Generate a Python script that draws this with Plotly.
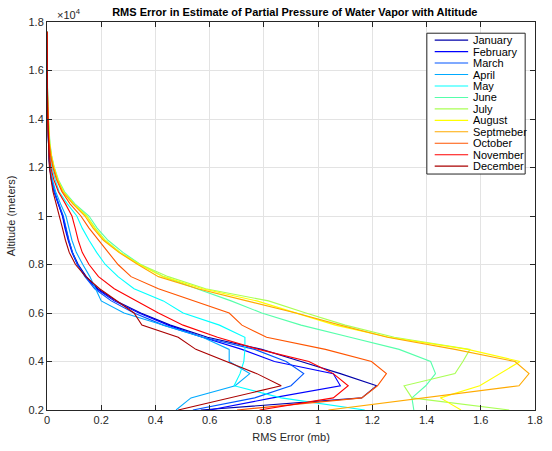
import plotly.graph_objects as go

ALTITUDE = [2000, 2500, 3000, 3500, 4000, 4500, 5000, 5500, 6000, 6500, 7000, 7500,
            8000, 8500, 9000, 9500, 10000, 10500, 11000, 11500, 12000, 12500, 13000,
            13500, 14000, 14500, 15000, 15500, 16000, 16500, 17000, 17600]

MONTHS = ["January", "February", "March", "April", "May", "June", "July",
          "August", "Septmeber", "October", "November", "December"]

COLORS = ["rgb(0,0,170)", "rgb(0,0,255)", "rgb(0,85,255)", "rgb(0,170,255)",
          "rgb(0,255,255)", "rgb(85,255,170)", "rgb(170,255,85)", "rgb(255,255,0)",
          "rgb(255,170,0)", "rgb(255,85,0)", "rgb(255,0,0)", "rgb(170,0,0)"]

JAN = [0.567, 1.161, 1.216, 1.082, 0.937, 0.792, 0.592, 0.455, 0.346, 0.255, 0.187, 0.145, 0.115, 0.094, 0.080, 0.068, 0.058, 0.042, 0.027, 0.017, 0.010, 0.007, 0.005, 0.004, 0.003, 0.002, 0.002, 0.001, 0.001, 0.001, 0.000, 0.000]
FEB = [0.600, 0.832, 1.082, 1.056, 0.839, 0.719, 0.574, 0.447, 0.339, 0.248, 0.183, 0.142, 0.112, 0.092, 0.078, 0.066, 0.057, 0.041, 0.026, 0.016, 0.010, 0.007, 0.005, 0.004, 0.003, 0.002, 0.002, 0.001, 0.001, 0.001, 0.000, 0.000]
MAR = [0.538, 0.766, 0.900, 0.947, 0.882, 0.766, 0.574, 0.429, 0.321, 0.237, 0.176, 0.140, 0.112, 0.094, 0.081, 0.070, 0.060, 0.044, 0.028, 0.018, 0.011, 0.007, 0.005, 0.004, 0.003, 0.002, 0.002, 0.001, 0.001, 0.001, 0.000, 0.000]
APR = [0.476, 0.531, 0.694, 0.748, 0.672, 0.672, 0.574, 0.429, 0.284, 0.200, 0.180, 0.158, 0.132, 0.108, 0.092, 0.080, 0.070, 0.050, 0.032, 0.020, 0.012, 0.008, 0.005, 0.004, 0.003, 0.002, 0.002, 0.001, 0.001, 0.001, 0.000, 0.000]
MAY = [1.172, 0.864, 0.690, 0.712, 0.726, 0.730, 0.730, 0.636, 0.502, 0.429, 0.321, 0.262, 0.215, 0.183, 0.155, 0.130, 0.110, 0.075, 0.045, 0.030, 0.018, 0.011, 0.007, 0.005, 0.003, 0.002, 0.002, 0.001, 0.001, 0.001, 0.000, 0.000]
JUN = [1.353, 1.346, 1.397, 1.433, 1.415, 1.299, 1.118, 0.937, 0.792, 0.679, 0.553, 0.430, 0.345, 0.280, 0.225, 0.185, 0.155, 0.103, 0.065, 0.042, 0.027, 0.017, 0.011, 0.007, 0.005, 0.003, 0.002, 0.001, 0.001, 0.001, 0.000, 0.000]
JUL = [1.705, 1.346, 1.317, 1.505, 1.534, 1.560, 1.281, 1.100, 0.955, 0.817, 0.585, 0.447, 0.345, 0.270, 0.215, 0.178, 0.148, 0.100, 0.062, 0.040, 0.026, 0.016, 0.010, 0.007, 0.005, 0.003, 0.002, 0.001, 0.001, 0.001, 0.000, 0.000]
AUG = [1.527, 1.451, 1.596, 1.668, 1.745, 1.552, 1.263, 1.063, 0.918, 0.774, 0.574, 0.429, 0.340, 0.268, 0.212, 0.175, 0.145, 0.098, 0.061, 0.040, 0.026, 0.016, 0.010, 0.007, 0.005, 0.003, 0.002, 0.001, 0.001, 0.001, 0.000, 0.000]
SEP = [1.038, 1.400, 1.741, 1.778, 1.726, 1.505, 1.255, 1.082, 0.918, 0.737, 0.556, 0.411, 0.335, 0.265, 0.208, 0.170, 0.140, 0.095, 0.058, 0.038, 0.024, 0.015, 0.009, 0.006, 0.004, 0.003, 0.002, 0.001, 0.001, 0.001, 0.000, 0.000]
OCT = [0.701, 1.161, 1.219, 1.252, 1.197, 1.027, 0.810, 0.719, 0.672, 0.545, 0.411, 0.310, 0.262, 0.226, 0.190, 0.155, 0.125, 0.085, 0.055, 0.035, 0.022, 0.013, 0.008, 0.005, 0.003, 0.002, 0.002, 0.001, 0.001, 0.001, 0.000, 0.000]
NOV = [0.784, 1.056, 1.111, 1.056, 0.966, 0.781, 0.629, 0.502, 0.411, 0.332, 0.248, 0.190, 0.155, 0.130, 0.115, 0.104, 0.092, 0.068, 0.042, 0.025, 0.014, 0.009, 0.006, 0.004, 0.003, 0.002, 0.002, 0.001, 0.001, 0.001, 0.000, 0.000]
DEC = [0.484, 0.672, 0.864, 0.774, 0.665, 0.549, 0.484, 0.350, 0.321, 0.259, 0.194, 0.143, 0.105, 0.082, 0.068, 0.057, 0.046, 0.034, 0.022, 0.015, 0.009, 0.007, 0.005, 0.004, 0.003, 0.002, 0.002, 0.001, 0.001, 0.001, 0.000, 0.000]

SERIES = [JAN, FEB, MAR, APR, MAY, JUN, JUL, AUG, SEP, OCT, NOV, DEC]

X_TICKS = [0, 0.2, 0.4, 0.6, 0.8, 1.0, 1.2, 1.4, 1.6, 1.8]
X_TICK_LABELS = ["0", "0.2", "0.4", "0.6", "0.8", "1", "1.2", "1.4", "1.6", "1.8"]
Y_TICKS = [2000, 4000, 6000, 8000, 10000, 12000, 14000, 16000, 18000]
Y_TICK_LABELS = ["0.2", "0.4", "0.6", "0.8", "1", "1.2", "1.4", "1.6", "1.8"]

W, H = 552, 451
ML, MR, MT, MB = 46.7, 9, 21.7, 38.1
PW, PH = W - ML - MR, H - MT - MB
FONT = "Liberation Sans, Arial, Helvetica, sans-serif"
AX = "#262626"


def px(xp):
    return (xp - ML) / PW


def py(yp):
    return (H - MB - yp) / PH


fig = go.Figure()
for name, color, vals in zip(MONTHS, COLORS, SERIES):
    fig.add_trace(go.Scatter(x=vals, y=ALTITUDE, mode="lines", name=name,
                             line=dict(color=color, width=1.1), showlegend=False))

# MATLAB-style legend box
shapes = [dict(type="rect", xref="paper", yref="paper", x0=px(433), x1=px(533),
               y0=py(175), y1=py(33), line=dict(color=AX, width=1), fillcolor="white",
               layer="above")]
annotations = []
for i, (name, color) in enumerate(zip(MONTHS, COLORS)):
    yy = 40 + i * 11.55
    shapes.append(dict(type="line", xref="paper", yref="paper", x0=px(441), x1=px(475),
                       y0=py(yy), y1=py(yy), line=dict(color=color, width=1.1), layer="above"))
    annotations.append(dict(xref="paper", yref="paper", x=px(478), y=py(yy), text=name,
                            showarrow=False, xanchor="left", yanchor="middle",
                            font=dict(family=FONT, size=11, color="black")))

annotations.append(dict(xref="paper", yref="paper", x=px(55), y=py(14), text="×10<sup>4</sup>",
                        showarrow=False, xanchor="left", yanchor="middle",
                        font=dict(family=FONT, size=11, color=AX)))

fig.update_layout(
    width=W, height=H,
    margin=dict(l=ML, r=MR, t=MT, b=MB, pad=0),
    paper_bgcolor="white", plot_bgcolor="white",
    hovermode=False,
    title=dict(text="<b>RMS Error in Estimate of Partial Pressure of Water Vapor with Altitude</b>",
               x=(ML + PW / 2) / W, xanchor="center", y=1 - 12 / H, yanchor="middle",
               font=dict(family=FONT, size=11, color="black")),
    font=dict(family=FONT, size=11, color=AX),
    shapes=shapes, annotations=annotations,
    xaxis=dict(range=[0, 1.8], tickvals=X_TICKS, ticktext=X_TICK_LABELS,
               showgrid=True, gridcolor="#e3e3e3", gridwidth=1, zeroline=False,
               showline=True, linecolor=AX, linewidth=1, mirror="ticks",
               ticks="inside", ticklen=5, tickcolor=AX, tickfont=dict(size=11),
               title=dict(text="RMS Error (mb)", standoff=8, font=dict(size=11, color=AX))),
    yaxis=dict(range=[2000, 18000], tickvals=Y_TICKS, ticktext=Y_TICK_LABELS,
               showgrid=True, gridcolor="#e3e3e3", gridwidth=1, zeroline=False,
               showline=True, linecolor=AX, linewidth=1, mirror="ticks",
               ticks="inside", ticklen=5, tickcolor=AX, tickfont=dict(size=11),
               title=dict(text="Altitude (meters)", standoff=10, font=dict(size=11, color=AX))),
)

fig.write_html("out.html", config={"displayModeBar": False},
               post_script="document.body.style.margin='0px';")
